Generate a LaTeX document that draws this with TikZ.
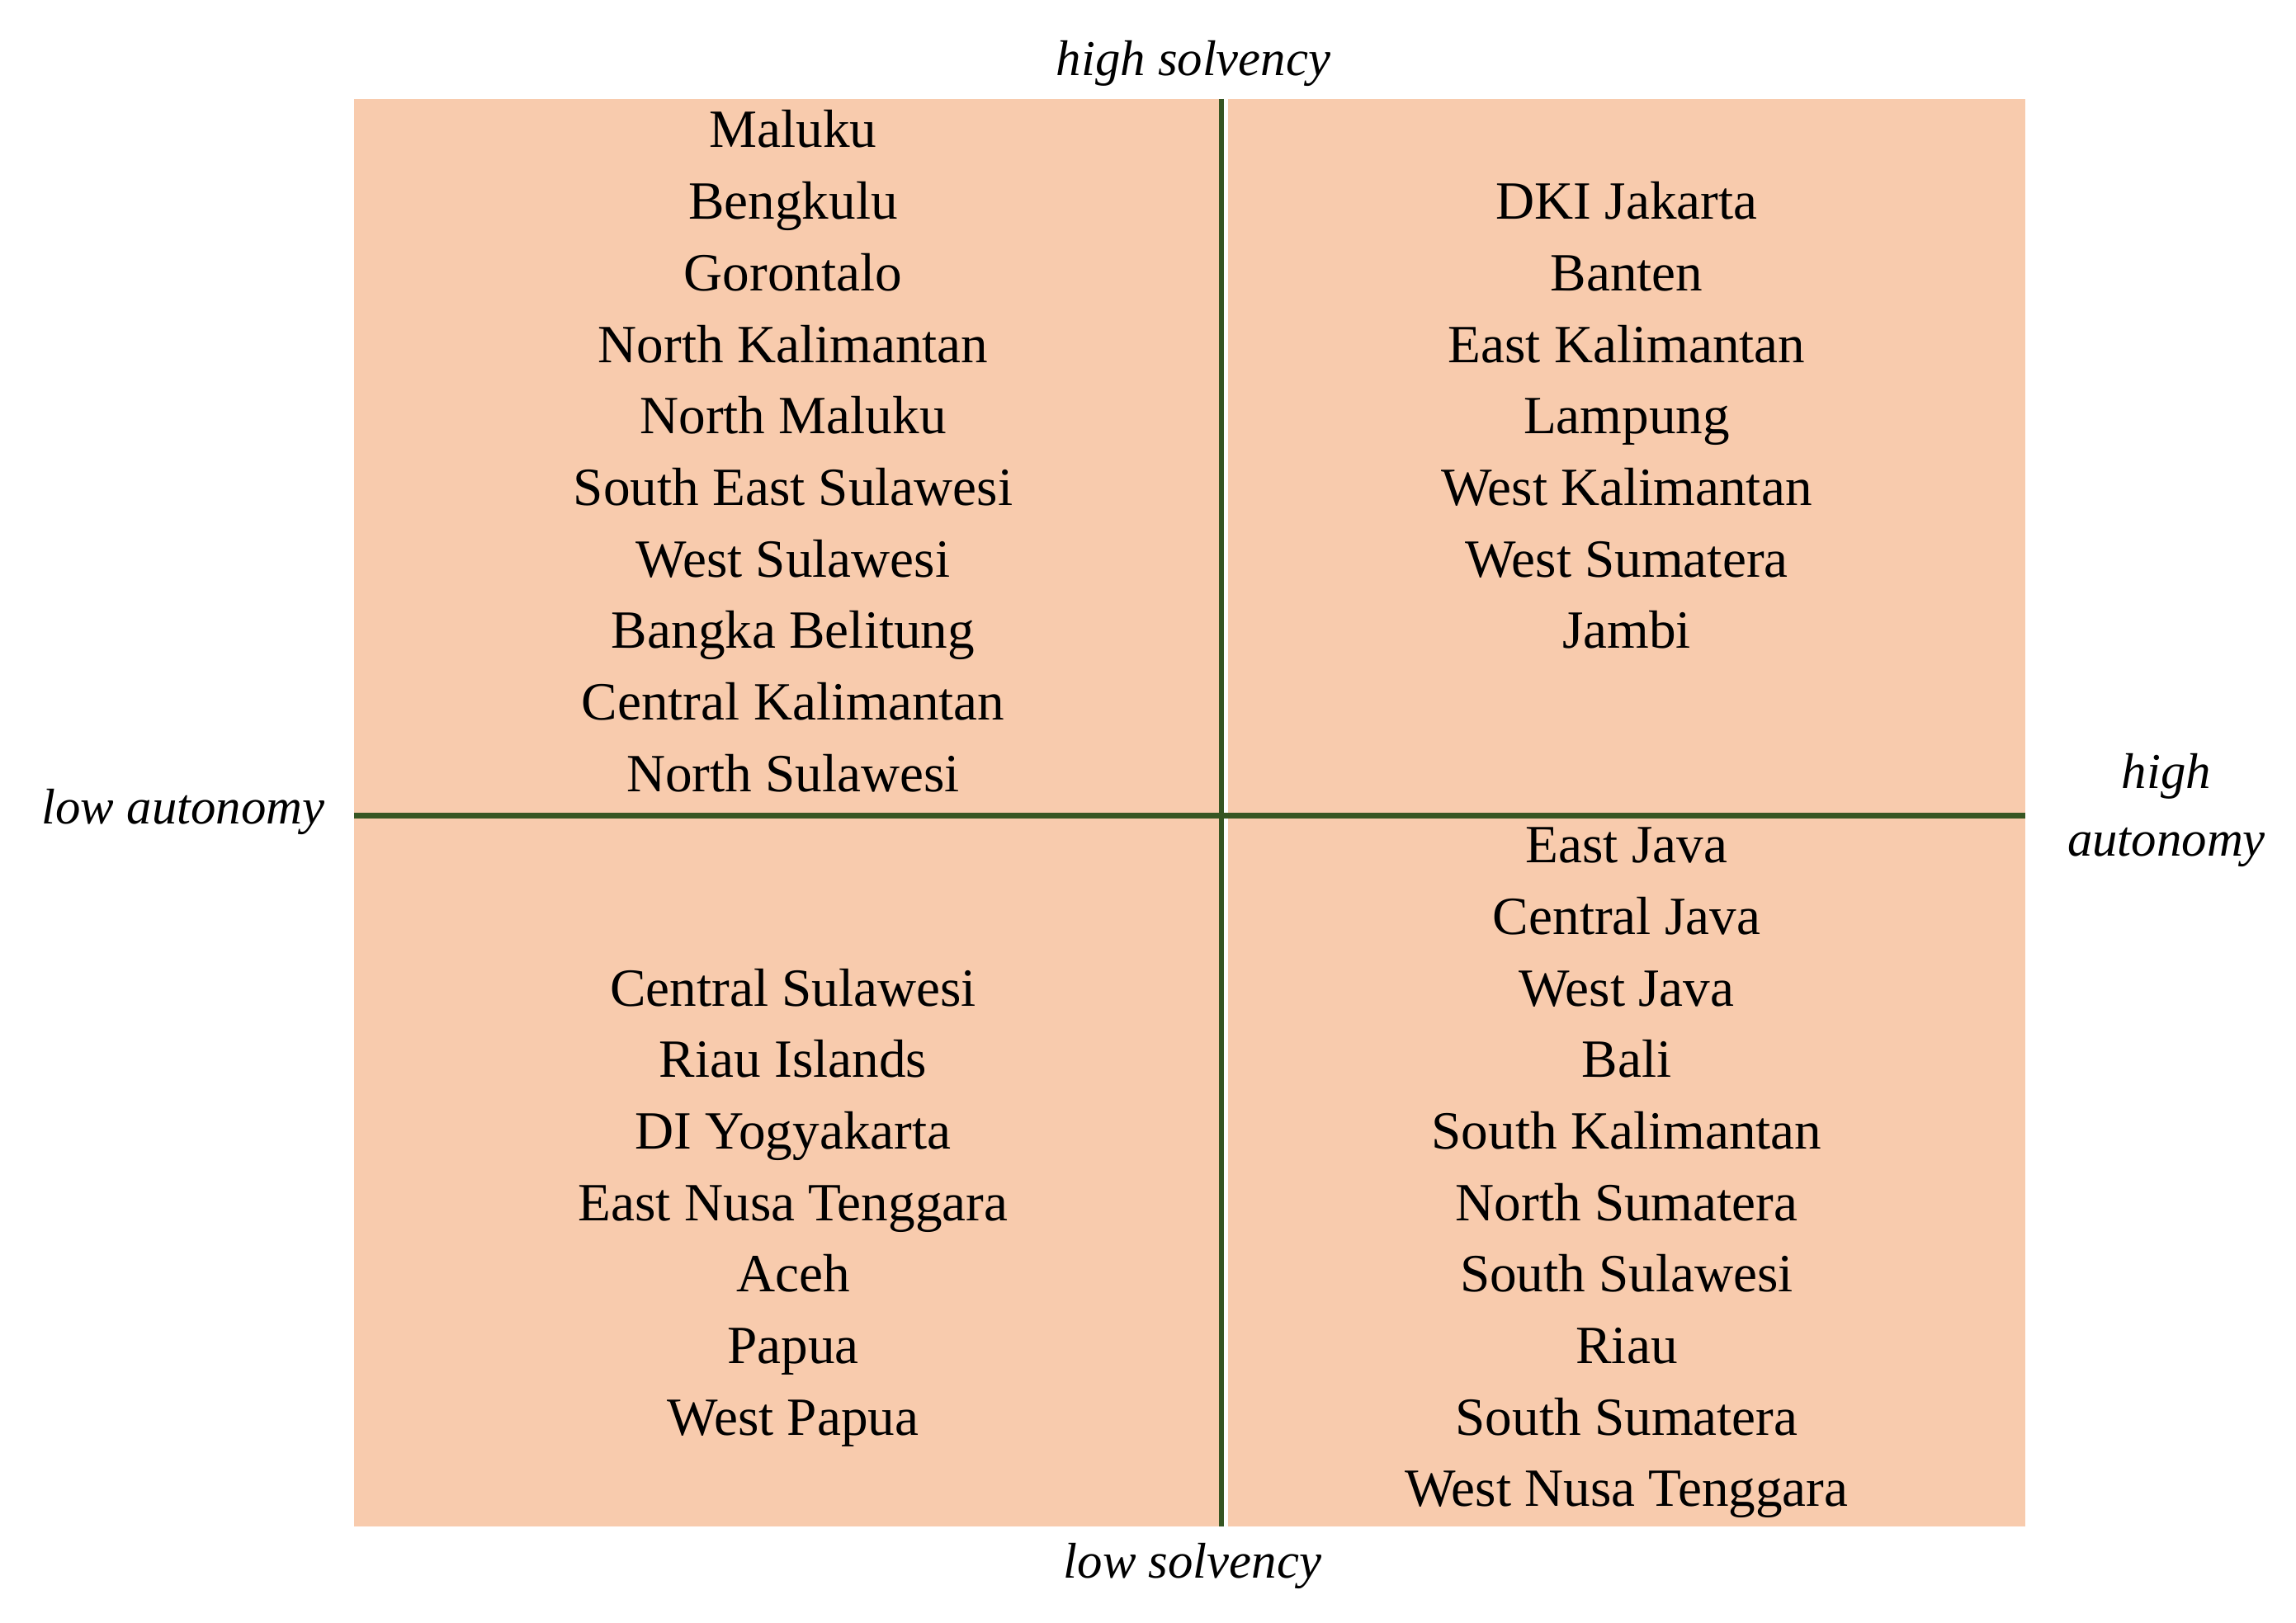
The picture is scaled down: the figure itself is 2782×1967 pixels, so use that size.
\documentclass[tikz,border=0pt]{standalone}
\usepackage{fontspec}
\setmainfont{Liberation Serif}
\definecolor{quadfill}{HTML}{F8CBAD}
\definecolor{axisgreen}{HTML}{375623}
\tikzset{
  item/.style={anchor=base, inner sep=0pt, font=\fontsize{16.3}{19}\selectfont},
  axislabel/.style={anchor=base, inner sep=0pt, font=\fontsize{15.2}{18}\selectfont\itshape, align=center},
}
\newcommand{\rowy}[1]{179+#1*86.67}
\begin{document}
\begin{tikzpicture}[x=0.25pt, y=-0.25pt]
\useasboundingbox (0,0) rectangle (2782,1967);
% quadrant fills
\fill[quadfill] (429,120) rectangle (1480,1850);
\fill[quadfill] (1488,120) rectangle (2454,1850);
% axes
\coordinate (hl) at (429,988.5);
\coordinate (hr) at (2454,988.5);
\coordinate (vt) at (1480,120);
\coordinate (vb) at (1480,1850);
\draw[axisgreen, line width=1.5pt] (vt) -- (vb);
\draw[axisgreen, line width=1.75pt] (hl) -- (hr);
% axis labels
\node[axislabel] (hs) at (1446,92) {high solvency};
\node[axislabel] (ls) at (1445,1912) {low solvency};
\node[axislabel] (la) at (222,998) {low autonomy};
\node[axislabel] (ha1) at (2625,955) {high};
\node[axislabel] (ha2) at (2625,1037) {autonomy};
% top-left
\node[item] (tl0) at (961,{\rowy{0}}) {Maluku};
\node[item] (tl1) at (961,{\rowy{1}}) {Bengkulu};
\node[item] (tl2) at (961,{\rowy{2}}) {Gorontalo};
\node[item] (tl3) at (961,{\rowy{3}}) {North Kalimantan};
\node[item] (tl4) at (961,{\rowy{4}}) {North Maluku};
\node[item] (tl5) at (961,{\rowy{5}}) {South East Sulawesi};
\node[item] (tl6) at (961,{\rowy{6}}) {West Sulawesi};
\node[item] (tl7) at (961,{\rowy{7}}) {Bangka Belitung};
\node[item] (tl8) at (961,{\rowy{8}}) {Central Kalimantan};
\node[item] (tl9) at (961,{\rowy{9}}) {North Sulawesi};
% top-right
\node[item] (tr1) at (1971,{\rowy{1}}) {DKI Jakarta};
\node[item] (tr2) at (1971,{\rowy{2}}) {Banten};
\node[item] (tr3) at (1971,{\rowy{3}}) {East Kalimantan};
\node[item] (tr4) at (1971,{\rowy{4}}) {Lampung};
\node[item] (tr5) at (1971,{\rowy{5}}) {West Kalimantan};
\node[item] (tr6) at (1971,{\rowy{6}}) {West Sumatera};
\node[item] (tr7) at (1971,{\rowy{7}}) {Jambi};
% bottom-left
\node[item] (bl12) at (961,{\rowy{12}}) {Central Sulawesi};
\node[item] (bl13) at (961,{\rowy{13}}) {Riau Islands};
\node[item] (bl14) at (961,{\rowy{14}}) {DI Yogyakarta};
\node[item] (bl15) at (961,{\rowy{15}}) {East Nusa Tenggara};
\node[item] (bl16) at (961,{\rowy{16}}) {Aceh};
\node[item] (bl17) at (961,{\rowy{17}}) {Papua};
\node[item] (bl18) at (961,{\rowy{18}}) {West Papua};
% bottom-right
\node[item] (br10) at (1971,{\rowy{10}}) {East Java};
\node[item] (br11) at (1971,{\rowy{11}}) {Central Java};
\node[item] (br12) at (1971,{\rowy{12}}) {West Java};
\node[item] (br13) at (1971,{\rowy{13}}) {Bali};
\node[item] (br14) at (1971,{\rowy{14}}) {South Kalimantan};
\node[item] (br15) at (1971,{\rowy{15}}) {North Sumatera};
\node[item] (br16) at (1971,{\rowy{16}}) {South Sulawesi};
\node[item] (br17) at (1971,{\rowy{17}}) {Riau};
\node[item] (br18) at (1971,{\rowy{18}}) {South Sumatera};
\node[item] (br19) at (1971,{\rowy{19}}) {West Nusa Tenggara};
\end{tikzpicture}
\end{document}
